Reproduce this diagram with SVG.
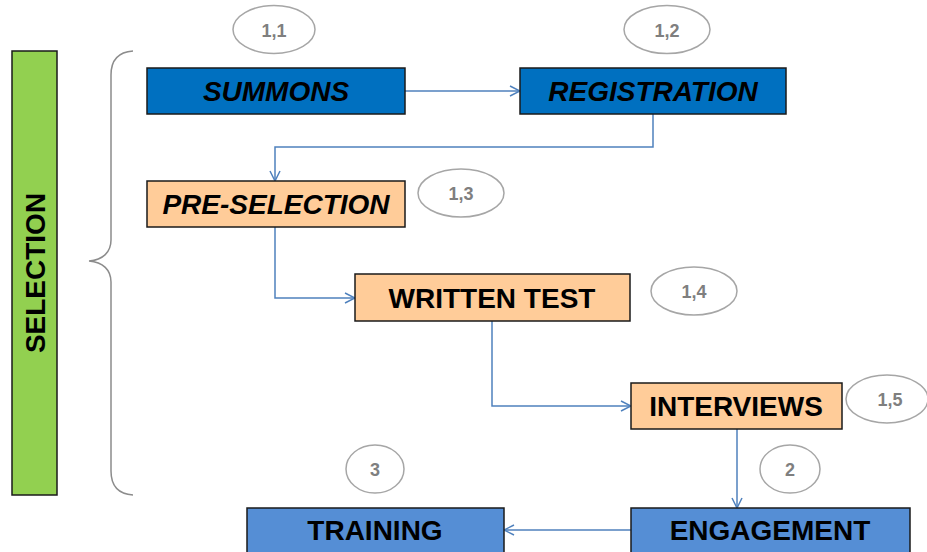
<svg xmlns="http://www.w3.org/2000/svg" width="927" height="552" viewBox="0 0 927 552">
  <defs>
    <style>
      .box { stroke: #1a1a1a; stroke-width: 1.5; }
      .dark { fill: #0070C0; }
      .peach { fill: #FFCC99; }
      .light { fill: #558ED5; }
      .label { font-family: "Liberation Sans", Arial, sans-serif; font-size: 28px; font-weight: bold; fill: #000; text-anchor: middle; }
      .it { font-style: italic; }
      .badge ellipse { fill: #fff; stroke: #A6A6A6; stroke-width: 1.5; }
      .badge text { font-family: "Liberation Sans", Arial, sans-serif; font-size: 18px; font-weight: bold; fill: #7F7F7F; text-anchor: middle; }
      .conn { fill: none; stroke: #4F81BD; stroke-width: 1.5; marker-end: url(#arrow); }
    </style>
    <marker id="arrow" viewBox="0 0 12 12" refX="11" refY="6" markerWidth="12" markerHeight="12" markerUnits="userSpaceOnUse" orient="auto">
      <path d="M1,1 L11,6 L1,11" fill="none" stroke="#4F81BD" stroke-width="1.5"/>
    </marker>
  </defs>

  <rect width="927" height="552" fill="#fff"/>

  <!-- phase bar -->
  <g id="selection-bar">
    <rect x="12" y="51" width="45" height="444" fill="#92D050" stroke="#1a1a1a" stroke-width="1.5"/>
    <text class="label" transform="translate(45,273) rotate(-90)">SELECTION</text>
  </g>

  <!-- brace grouping the selection steps -->
  <g id="brace">
    <path d="M133,51 C118,52 111,60 111,75 L111,240 C111,252 103,260 89,261 C103,262 111,270 111,282 L111,471 C111,486 118,494 133,495" fill="none" stroke="#8C8C8C" stroke-width="1.5"/>
  </g>

  <g id="connectors">
    <path class="conn" d="M405,91 L520,91"/>
    <path class="conn" d="M653,114 L653,147 L275,147 L275,181"/>
    <path class="conn" d="M275,227 L275,298 L355,298"/>
    <path class="conn" d="M492,321 L492,406 L631,406"/>
    <path class="conn" d="M737,429 L737,508"/>
    <path class="conn" d="M631,530 L504,530"/>
  </g>

  <g id="summons">
    <rect class="box dark" x="147" y="68" width="258" height="46"/>
    <text class="label it" x="276" y="101">SUMMONS</text>
  </g>
  <g id="registration">
    <rect class="box dark" x="520" y="68" width="266" height="46"/>
    <text class="label it" x="653" y="101">REGISTRATION</text>
  </g>
  <g id="pre-selection">
    <rect class="box peach" x="147" y="181" width="258" height="46"/>
    <text class="label it" x="276" y="214">PRE-SELECTION</text>
  </g>
  <g id="written-test">
    <rect class="box peach" x="355" y="274" width="275" height="47"/>
    <text class="label" x="492" y="308">WRITTEN TEST</text>
  </g>
  <g id="interviews">
    <rect class="box peach" x="631" y="383" width="211" height="46"/>
    <text class="label" x="736" y="416">INTERVIEWS</text>
  </g>
  <g id="engagement">
    <rect class="box light" x="631" y="508" width="279" height="50"/>
    <text class="label" x="770" y="540">ENGAGEMENT</text>
  </g>
  <g id="training">
    <rect class="box light" x="247" y="508" width="257" height="50"/>
    <text class="label" x="375" y="540">TRAINING</text>
  </g>

  <g id="badge-1-1" class="badge"><ellipse cx="274" cy="29.5" rx="41" ry="24"/><text x="274" y="37">1,1</text></g>
  <g id="badge-1-2" class="badge"><ellipse cx="667" cy="29.5" rx="43" ry="24"/><text x="667" y="37">1,2</text></g>
  <g id="badge-1-3" class="badge"><ellipse cx="461" cy="193" rx="43" ry="24"/><text x="461" y="200">1,3</text></g>
  <g id="badge-1-4" class="badge"><ellipse cx="694" cy="291" rx="43" ry="24"/><text x="694" y="298">1,4</text></g>
  <g id="badge-1-5" class="badge"><ellipse cx="887" cy="399" rx="41" ry="24"/><text x="890" y="406">1,5</text></g>
  <g id="badge-2" class="badge"><ellipse cx="790" cy="469" rx="30" ry="24"/><text x="790" y="476">2</text></g>
  <g id="badge-3" class="badge"><ellipse cx="375" cy="469" rx="29" ry="24"/><text x="375" y="476">3</text></g>
</svg>
